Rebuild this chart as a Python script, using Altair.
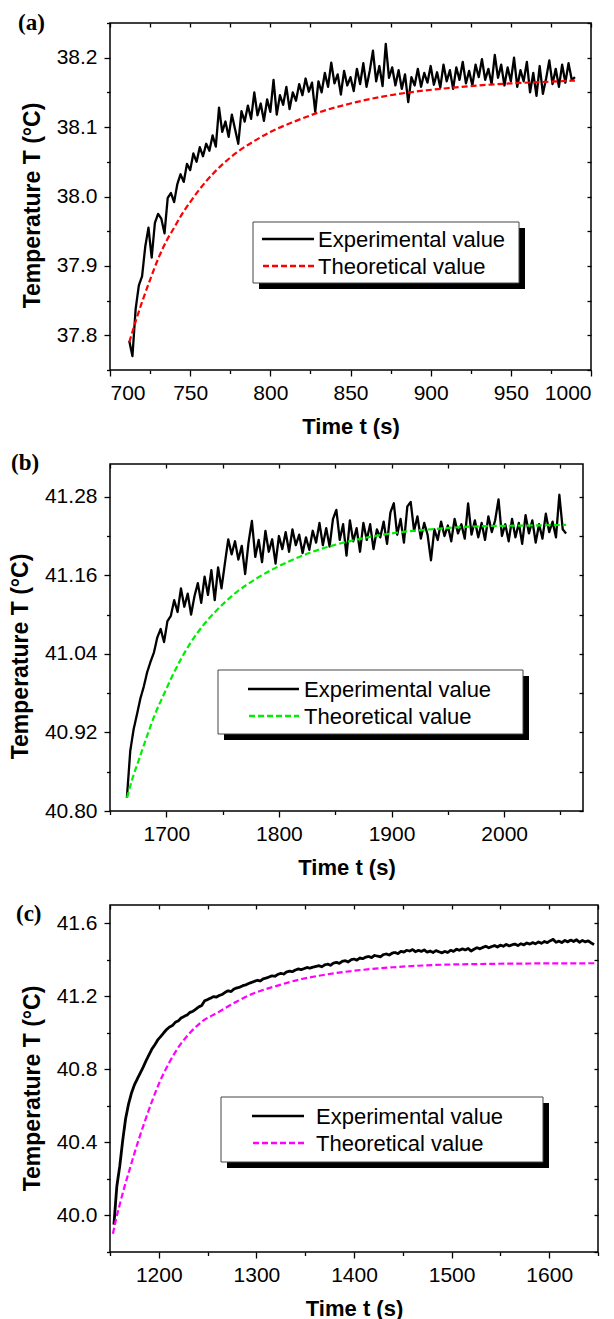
import altair as alt
import pandas as pd

SERIES = ["Experimental value", "Theoretical value"]

# ---------------- Panel (a) ----------------
A_EXP_T0, A_EXP_STEP = 712, 2
A_EXP = [37.792, 37.770, 37.838, 37.872, 37.885, 37.928, 37.955, 37.912, 37.962, 37.975,
         37.968, 37.947, 37.998, 38.005, 37.992, 38.018, 38.032, 38.021, 38.047, 38.038,
         38.062, 38.050, 38.071, 38.058, 38.076, 38.066, 38.088, 38.072, 38.128, 38.093,
         38.108, 38.086, 38.118, 38.097, 38.076, 38.123, 38.108, 38.131, 38.112, 38.150,
         38.117, 38.134, 38.109, 38.140, 38.122, 38.168, 38.118, 38.146, 38.132, 38.158,
         38.126, 38.150, 38.138, 38.162, 38.146, 38.170, 38.151, 38.164, 38.122, 38.166,
         38.150, 38.178, 38.158, 38.193, 38.163, 38.176, 38.147, 38.181, 38.160, 38.172,
         38.152, 38.184, 38.162, 38.192, 38.158, 38.181, 38.210, 38.166, 38.188, 38.159,
         38.220, 38.171, 38.186, 38.160, 38.182, 38.155, 38.176, 38.136, 38.172, 38.160,
         38.184, 38.158, 38.178, 38.164, 38.188, 38.161, 38.179, 38.157, 38.190, 38.166,
         38.182, 38.155, 38.186, 38.168, 38.194, 38.163, 38.181, 38.160, 38.190, 38.172,
         38.198, 38.168, 38.184, 38.162, 38.204, 38.171, 38.190, 38.160, 38.186, 38.166,
         38.200, 38.158, 38.182, 38.166, 38.194, 38.150, 38.178, 38.145, 38.188, 38.148,
         38.170, 38.196, 38.162, 38.184, 38.158, 38.190, 38.164, 38.192, 38.168, 38.172]
A_TH_T = [712, 716, 720, 725, 730, 735, 740, 745, 750, 760, 770, 780, 790, 800, 815, 830,
          850, 870, 890, 910, 930, 950, 970, 990]
A_TH = [37.790, 37.820, 37.848, 37.880, 37.910, 37.935, 37.955, 37.975, 37.992, 38.022,
        38.046, 38.065, 38.080, 38.093, 38.108, 38.121, 38.134, 38.144, 38.151, 38.156,
        38.160, 38.163, 38.165, 38.167]
A_XTICKS = [700, 725, 750, 775, 800, 825, 850, 875, 900, 925, 950, 975, 1000]
A_YTICKS = [37.75, 37.80, 37.85, 37.90, 37.95, 38.00, 38.05, 38.10, 38.15, 38.20, 38.25]

# ---------------- Panel (b) ----------------
B_EXP_T0, B_EXP_STEP = 1665, 3
B_EXP = [40.820, 40.892, 40.925, 40.948, 40.972, 40.990, 41.012, 41.028, 41.042, 41.065,
         41.078, 41.058, 41.090, 41.098, 41.122, 41.104, 41.140, 41.112, 41.132, 41.100,
         41.128, 41.148, 41.118, 41.158, 41.130, 41.168, 41.122, 41.172, 41.140, 41.178,
         41.215, 41.192, 41.212, 41.184, 41.205, 41.162, 41.210, 41.243, 41.188, 41.214,
         41.180, 41.228, 41.196, 41.215, 41.178, 41.220, 41.200, 41.226, 41.196, 41.230,
         41.206, 41.222, 41.194, 41.218, 41.199, 41.228, 41.210, 41.240, 41.206, 41.232,
         41.204, 41.246, 41.260, 41.214, 41.238, 41.190, 41.244, 41.212, 41.232, 41.196,
         41.240, 41.214, 41.238, 41.200, 41.230, 41.218, 41.242, 41.208, 41.256, 41.270,
         41.222, 41.246, 41.210, 41.265, 41.272, 41.228, 41.250, 41.216, 41.240, 41.222,
         41.183, 41.230, 41.214, 41.242, 41.220, 41.236, 41.212, 41.246, 41.224, 41.238,
         41.216, 41.270, 41.222, 41.244, 41.218, 41.240, 41.214, 41.250, 41.226, 41.244,
         41.276, 41.220, 41.238, 41.212, 41.246, 41.218, 41.240, 41.208, 41.252, 41.224,
         41.244, 41.210, 41.238, 41.216, 41.254, 41.226, 41.242, 41.218, 41.283, 41.230,
         41.224]
B_TH_T = [1665, 1670, 1676, 1683, 1690, 1697, 1705, 1713, 1722, 1732, 1745, 1760, 1780,
          1800, 1830, 1860, 1900, 1940, 1980, 2020, 2055]
B_TH = [40.820, 40.850, 40.880, 40.915, 40.948, 40.975, 41.005, 41.032, 41.058, 41.082,
        41.107, 41.131, 41.155, 41.174, 41.196, 41.211, 41.224, 41.231, 41.235, 41.236,
        41.237]
B_XTICKS = [1650, 1700, 1750, 1800, 1850, 1900, 1950, 2000, 2050]
B_YTICKS = [40.80, 40.86, 40.92, 40.98, 41.04, 41.10, 41.16, 41.22, 41.28]

# ---------------- Panel (c) ----------------
C_EXP_T0, C_EXP_STEP = 1154, 3
C_EXP = [39.950, 40.160, 40.270, 40.410, 40.530, 40.610, 40.670, 40.715, 40.748, 40.780,
         40.812, 40.848, 40.880, 40.912, 40.935, 40.962, 40.980, 41.000, 41.018, 41.032,
         41.040, 41.058, 41.066, 41.082, 41.090, 41.098, 41.112, 41.118, 41.130, 41.142,
         41.150, 41.176, 41.182, 41.190, 41.198, 41.196, 41.205, 41.210, 41.222, 41.230,
         41.226, 41.240, 41.246, 41.250, 41.258, 41.262, 41.270, 41.276, 41.282, 41.288,
         41.284, 41.296, 41.300, 41.306, 41.312, 41.310, 41.320, 41.326, 41.322, 41.334,
         41.338, 41.335, 41.344, 41.350, 41.346, 41.352, 41.358, 41.354, 41.360, 41.364,
         41.368, 41.362, 41.372, 41.376, 41.370, 41.382, 41.386, 41.380, 41.392, 41.395,
         41.388, 41.400, 41.404, 41.398, 41.410, 41.406, 41.414, 41.418, 41.412, 41.424,
         41.420, 41.416, 41.428, 41.432, 41.426, 41.436, 41.440, 41.434, 41.446, 41.442,
         41.452, 41.448, 41.456, 41.444, 41.452, 41.446, 41.454, 41.442, 41.448, 41.440,
         41.450, 41.444, 41.438, 41.446, 41.440, 41.452, 41.446, 41.458, 41.452, 41.460,
         41.454, 41.462, 41.448, 41.458, 41.466, 41.460, 41.468, 41.474, 41.466, 41.472,
         41.478, 41.470, 41.480, 41.474, 41.484, 41.476, 41.482, 41.486, 41.478, 41.488,
         41.482, 41.492, 41.486, 41.494, 41.488, 41.498, 41.490, 41.500, 41.494, 41.504,
         41.512, 41.496, 41.502, 41.494, 41.506, 41.498, 41.508, 41.500, 41.510, 41.496,
         41.506, 41.498, 41.504, 41.492, 41.484]
C_TH_T = [1153, 1156, 1160, 1165, 1170, 1175, 1180, 1186, 1193, 1200, 1210, 1220, 1232,
          1245, 1260, 1280, 1300, 1320, 1345, 1370, 1400, 1440, 1480, 1530, 1590, 1650]
C_TH = [39.900, 39.975, 40.060, 40.160, 40.250, 40.340, 40.425, 40.520, 40.625, 40.720,
        40.830, 40.920, 41.000, 41.065, 41.110, 41.172, 41.222, 41.256, 41.293, 41.318,
        41.340, 41.359, 41.371, 41.377, 41.380, 41.381]
C_XTICKS = [1150, 1200, 1250, 1300, 1350, 1400, 1450, 1500, 1550, 1600, 1650]
C_YTICKS = [39.8, 40.0, 40.2, 40.4, 40.6, 40.8, 41.0, 41.2, 41.4, 41.6]

FONT = "Liberation Sans"
DASH = [6, 3]


def make_df(t0, step, exp_vals, th_t, th_vals):
    rows = [{"t": t0 + step * i, "T": v, "series": SERIES[0]} for i, v in enumerate(exp_vals)]
    rows += [{"t": t, "T": v, "series": SERIES[1]} for t, v in zip(th_t, th_vals)]
    return pd.DataFrame(rows)


def panel(df, color, xdom, ydom, xticks, yticks, xmaj, ymaj, yfmt, w, h,
          label, lab_xy, box, leg, title_y, exp_width):
    cscale = alt.Scale(domain=SERIES, range=["black", color])
    dscale = alt.Scale(domain=SERIES, range=[[1, 0], DASH])
    xs = alt.Scale(domain=xdom, nice=False, zero=False)
    ys = alt.Scale(domain=ydom, nice=False, zero=False)
    x_axis = alt.Axis(values=xticks, format="d", title="Time t (s)",
                      labelExpr=f"({xmaj}) ? datum.label : ''",
                      tickSize={"condition": {"test": xmaj, "value": 6}, "value": 3.5},
                      labelPadding=6, titlePadding=13, titleFontSize=22, domain=False,
                      grid=False, labelFontSize=21)
    y_axis = alt.Axis(values=yticks, format=yfmt, title="Temperature T (°C)",
                      labelExpr=f"({ymaj}) ? datum.label : ''",
                      tickSize={"condition": {"test": ymaj, "value": 6}, "value": 3.5},
                      labelPadding=7, titlePadding=12, titleFontSize=23, titleY=title_y,
                      domain=False, grid=False, labelFontSize=21)
    x_top = alt.Axis(orient="top", values=xticks, labels=False, title=None, domain=False,
                     tickSize=4, offset=-4, grid=False)
    y_right = alt.Axis(orient="right", values=yticks, labels=False, title=None, domain=False,
                       tickSize=4, offset=-4, grid=False)

    base = alt.Chart(df)
    exp = base.transform_filter(alt.datum.series == SERIES[0]).mark_line(
        strokeWidth=exp_width, strokeJoin="round").encode(
        x=alt.X("t:Q", scale=xs, axis=x_axis),
        y=alt.Y("T:Q", scale=ys, axis=y_axis),
        color=alt.Color("series:N", scale=cscale, legend=None),
        strokeDash=alt.StrokeDash("series:N", scale=dscale, legend=None),
    )
    th = base.transform_filter(alt.datum.series == SERIES[1]).mark_line(
        strokeWidth=2.2, interpolate="monotone").encode(
        x=alt.X("t:Q", scale=xs, axis=None),
        y=alt.Y("T:Q", scale=ys, axis=None),
        color=alt.Color("series:N", scale=cscale, legend=None),
        strokeDash=alt.StrokeDash("series:N", scale=dscale, legend=None),
    )
    frame_ticks = base.transform_filter(alt.datum.series == SERIES[1]).mark_line(
        strokeOpacity=0).encode(
        x=alt.X("t:Q", scale=xs, axis=x_top),
        y=alt.Y("T:Q", scale=ys, axis=y_right),
    )

    # legend box (white panel with black drop shadow), samples and labels
    one = alt.Data(values=[{}])
    x0, y0, x1, y1 = box
    sx0, sx1, r1, r2, tx = leg
    shadow = alt.Chart(one).mark_rect(fill="black").encode(
        x=alt.value(x0 + 6), x2=alt.value(x1 + 6), y=alt.value(y0 + 6), y2=alt.value(y1 + 6))
    frame = alt.Chart(one).mark_rect(fill="white", stroke="#444444", strokeWidth=1).encode(
        x=alt.value(x0), x2=alt.value(x1), y=alt.value(y0), y2=alt.value(y1))
    s1 = alt.Chart(one).mark_rule(color="black", strokeWidth=2.5).encode(
        x=alt.value(sx0), x2=alt.value(sx1), y=alt.value(r1))
    s2 = alt.Chart(one).mark_rule(color=color, strokeWidth=2.5, strokeDash=DASH).encode(
        x=alt.value(sx0 + 1), x2=alt.value(sx1), y=alt.value(r2))
    t1 = alt.Chart(one).mark_text(text=SERIES[0], font=FONT, fontSize=22, align="left",
                                  baseline="middle", color="black").encode(
        x=alt.value(tx), y=alt.value(r1 + 1))
    t2 = alt.Chart(one).mark_text(text=SERIES[1], font=FONT, fontSize=22, align="left",
                                  baseline="middle", color="black").encode(
        x=alt.value(tx), y=alt.value(r2 + 1))
    lab = alt.Chart(one).mark_text(text=label, font="Liberation Serif", fontWeight="bold",
                                   fontSize=23, align="left", baseline="middle",
                                   color="black").encode(
        x=alt.value(lab_xy[0]), y=alt.value(lab_xy[1]))
    return alt.layer(exp, th, frame_ticks, shadow, frame, s1, s2, t1, t2, lab).resolve_axis(
        x="independent", y="independent").properties(width=w, height=h)


pa = panel(make_df(A_EXP_T0, A_EXP_STEP, A_EXP, A_TH_T, A_TH), "#ff0000",
           [700, 1000], [37.75, 38.25], A_XTICKS, A_YTICKS,
           "datum.value % 50 == 0", "abs(round(datum.value * 20)) % 2 == 0", ".1f",
           481, 347, "(a)", (-92, 0), (143, 199, 409, 260), (152, 204, 216, 243, 208), 182, 2.3)
pb = panel(make_df(B_EXP_T0, B_EXP_STEP, B_EXP, B_TH_T, B_TH), "#00ee00",
           [1650, 2070], [40.80, 41.33], B_XTICKS, B_YTICKS,
           "datum.value % 100 == 0", "abs(round((datum.value - 40.80) / 0.06)) % 2 == 0", ".2f",
           473, 347, "(b)", (-99, -1), (108, 206, 413, 270), (138, 189, 225, 252, 194), 192, 2.3)
pc = panel(make_df(C_EXP_T0, C_EXP_STEP, C_EXP, C_TH_T, C_TH), "#ff00ff",
           [1150, 1650], [39.8, 41.7], C_XTICKS, C_YTICKS,
           "datum.value % 100 == 0", "abs(round(datum.value * 5)) % 2 == 0", ".1f",
           488, 347, "(c)", (-94, 9), (111, 192, 433, 257), (142, 194, 211, 238, 206), 183, 2.8)

chart = alt.vconcat(pa, pb, pc, spacing=94, bounds="flush").resolve_scale(
    color="independent", strokeDash="independent"
).properties(
    padding={"left": 8, "top": 11, "right": 0, "bottom": 4}, background="white"
).configure_view(stroke="black", strokeWidth=1.5).configure_axis(
    labelFont=FONT, labelFontSize=21, labelColor="black", titleFont=FONT,
    titleFontWeight="bold", titleColor="black", tickColor="black", tickWidth=1.3,
    grid=False
)

chart.save("out.html", embed_options={"renderer": "svg", "actions": False})
